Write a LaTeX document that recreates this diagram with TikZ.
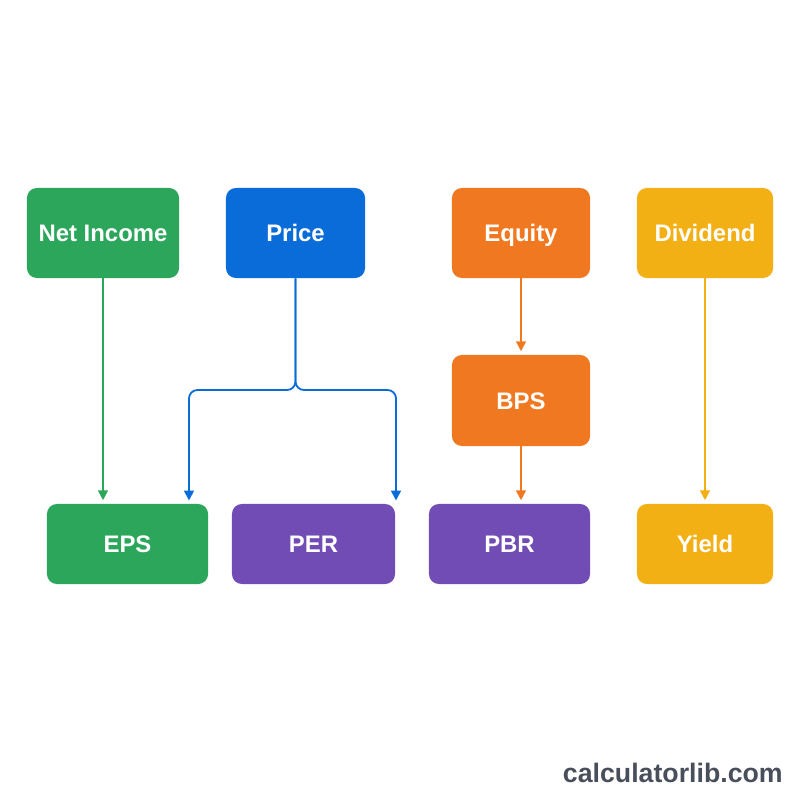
\documentclass[tikz,border=0pt]{standalone}
\usepackage{fontspec}
\setmainfont{Liberation Sans}
\usetikzlibrary{arrows.meta}

\definecolor{incgreen}{RGB}{43,166,90}
\definecolor{priceblue}{RGB}{10,108,216}
\definecolor{eqorange}{RGB}{240,120,32}
\definecolor{divyellow}{RGB}{242,176,20}
\definecolor{ratiopurple}{RGB}{112,76,180}
\definecolor{wmgray}{RGB}{72,78,90}

\begin{document}
\begin{tikzpicture}[x=0.025cm, y=-0.025cm,
    box/.style={rectangle, rounded corners=7pt, fill=#1, text=white, inner sep=0pt,
        text height=12.3pt, text depth=0pt,
        font=\bfseries\fontsize{17}{20}\selectfont},
    link/.style={draw=#1, line width=1.3pt, -{Triangle[length=7pt,width=7pt]}, shorten >=2.5pt}]
    \fill[white] (0,0) rectangle (800,800);
    \useasboundingbox (0,0) rectangle (800,800);

    % top row
    \node[box=incgreen, minimum width=3.8cm, minimum height=2.25cm] (netinc) at (103,233) {Net Income};
    \node[box=priceblue, minimum width=3.475cm, minimum height=2.25cm] (price) at (295.5,233) {Price};
    \node[box=eqorange, minimum width=3.45cm, minimum height=2.25cm] (equity) at (521,233) {Equity};
    \node[box=divyellow, minimum width=3.4cm, minimum height=2.25cm] (dividend) at (705,233) {Dividend};

    % middle
    \node[box=eqorange, minimum width=3.45cm, minimum height=2.275cm] (bps) at (521,400.5) {BPS};

    % bottom row
    \node[box=incgreen, minimum width=4.025cm, minimum height=2cm] (eps) at (127.5,544) {EPS};
    \node[box=ratiopurple, minimum width=4.075cm, minimum height=2cm] (per) at (313.5,544) {PER};
    \node[box=ratiopurple, minimum width=4.025cm, minimum height=2cm] (pbr) at (509.5,544) {PBR};
    \node[box=divyellow, minimum width=3.4cm, minimum height=2cm] (yield) at (705,544) {Yield};

    \coordinate (fork) at (295.5,390);
    \coordinate (epsin) at (189,504);
    \coordinate (perin) at (396,504);

    \draw[link=incgreen] (netinc) -- (netinc |- eps.north);
    \draw[link=priceblue, rounded corners=6pt] (price) -- (fork) -| (epsin);
    \draw[link=priceblue, rounded corners=6pt] (price) -- (fork) -| (perin);
    \draw[link=eqorange] (equity) -- (bps);
    \draw[link=eqorange] (bps) -- (bps |- pbr.north);
    \draw[link=divyellow] (dividend) -- (yield);

    \node[anchor=base east, inner sep=0pt, text=wmgray, font=\bfseries\fontsize{19}{22}\selectfont] (site) at (783,782) {calculatorlib.com};
\end{tikzpicture}
\end{document}
